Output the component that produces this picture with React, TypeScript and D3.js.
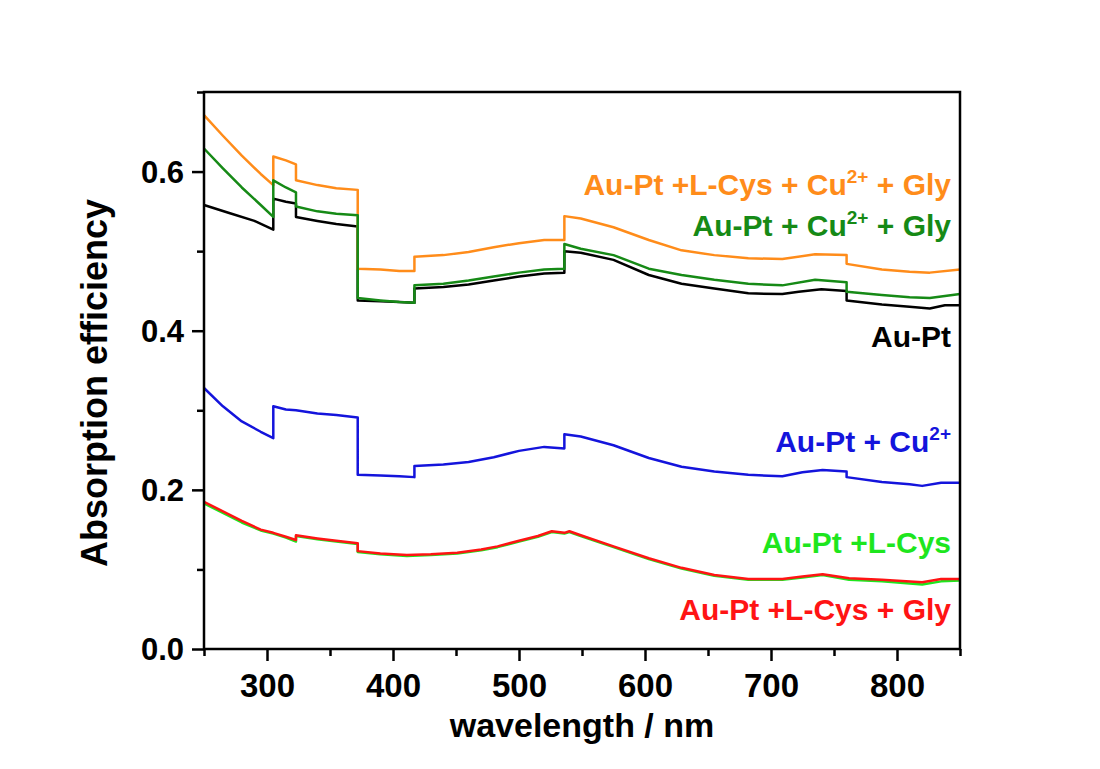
import { useRef, useEffect } from 'react';
import * as d3 from 'd3';

type Pt = [number, number];

// wavelength (nm), absorption efficiency
const auPt: Pt[] = [
    [250, 0.558], [270, 0.548], [290, 0.538], [305, 0.527], [305, 0.566], [315, 0.562], [323, 0.560],
    [323, 0.543], [340, 0.538], [355, 0.534], [372, 0.531], [372, 0.438], [390, 0.437], [405, 0.436],
    [417, 0.435], [417, 0.453], [440, 0.455], [460, 0.458], [480, 0.463], [500, 0.468], [520, 0.472],
    [536, 0.473], [536, 0.500], [549, 0.498], [575, 0.489], [603, 0.470], [629, 0.459], [655, 0.453],
    [682, 0.447], [709, 0.446], [722, 0.449], [740, 0.452], [760, 0.450], [760, 0.438], [788, 0.433],
    [810, 0.430], [826, 0.428], [838, 0.432], [850, 0.432]
];

const auPtCu: Pt[] = [
    [250, 0.328], [265, 0.305], [280, 0.286], [295, 0.273], [305, 0.265], [305, 0.305], [315, 0.301],
    [323, 0.300], [340, 0.296], [355, 0.294], [372, 0.291], [372, 0.219], [390, 0.218], [405, 0.217],
    [417, 0.216], [417, 0.230], [440, 0.232], [460, 0.235], [480, 0.241], [500, 0.249], [520, 0.254],
    [536, 0.252], [536, 0.270], [549, 0.267], [575, 0.256], [603, 0.240], [629, 0.229], [655, 0.223],
    [682, 0.219], [709, 0.217], [725, 0.222], [741, 0.225], [760, 0.223], [760, 0.216], [788, 0.210],
    [810, 0.207], [820, 0.205], [835, 0.209], [850, 0.209]
];

const auPtCysCuGly: Pt[] = [
    [250, 0.671], [265, 0.645], [280, 0.620], [295, 0.597], [305, 0.583], [305, 0.619], [315, 0.614],
    [323, 0.609], [323, 0.589], [340, 0.583], [355, 0.579], [372, 0.577], [372, 0.478], [390, 0.477],
    [405, 0.475], [417, 0.475], [417, 0.493], [440, 0.495], [460, 0.499], [480, 0.505], [500, 0.510],
    [520, 0.514], [536, 0.514], [536, 0.544], [549, 0.541], [575, 0.530], [603, 0.514], [629, 0.501],
    [655, 0.495], [682, 0.491], [709, 0.490], [735, 0.496], [760, 0.495], [760, 0.484], [788, 0.477],
    [810, 0.474], [826, 0.473], [850, 0.477]
];

const auPtCuGly: Pt[] = [
    [250, 0.629], [265, 0.604], [280, 0.580], [295, 0.558], [305, 0.543], [305, 0.589], [315, 0.580],
    [323, 0.574], [323, 0.556], [340, 0.550], [355, 0.547], [372, 0.545], [372, 0.441], [390, 0.438],
    [405, 0.436], [417, 0.435], [417, 0.457], [440, 0.459], [460, 0.463], [480, 0.468], [500, 0.473],
    [520, 0.477], [536, 0.478], [536, 0.509], [549, 0.503], [575, 0.495], [603, 0.478], [629, 0.470],
    [655, 0.464], [682, 0.459], [709, 0.457], [735, 0.464], [760, 0.461], [760, 0.449], [788, 0.445],
    [810, 0.442], [826, 0.441], [850, 0.446]
];

const auPtCys: Pt[] = [
    [250, 0.183], [265, 0.171], [280, 0.159], [295, 0.149], [305, 0.145], [315, 0.140], [323, 0.135],
    [323, 0.142], [340, 0.138], [355, 0.135], [372, 0.132], [372, 0.122], [390, 0.119], [411, 0.117],
    [430, 0.118], [451, 0.120], [470, 0.124], [483, 0.128], [500, 0.135], [515, 0.141], [526, 0.147],
    [536, 0.145], [540, 0.147], [549, 0.142], [575, 0.128], [603, 0.113], [629, 0.101], [655, 0.092],
    [682, 0.087], [709, 0.087], [725, 0.090], [741, 0.093], [762, 0.087], [788, 0.085], [820, 0.081],
    [835, 0.085], [850, 0.086]
];

const auPtCysGly: Pt[] = [
    [250, 0.185], [265, 0.173], [280, 0.161], [295, 0.150], [305, 0.146], [315, 0.141], [323, 0.137],
    [323, 0.143], [340, 0.139], [355, 0.136], [372, 0.133], [372, 0.123], [390, 0.120], [411, 0.118],
    [430, 0.119], [451, 0.121], [470, 0.125], [483, 0.129], [500, 0.136], [515, 0.142], [526, 0.148],
    [536, 0.146], [540, 0.148], [549, 0.143], [575, 0.129], [603, 0.114], [629, 0.102], [655, 0.093],
    [682, 0.088], [709, 0.088], [725, 0.091], [741, 0.094], [762, 0.089], [788, 0.087], [820, 0.084],
    [835, 0.088], [850, 0.088]
];

const series = [
    { data: auPt, color: '#000000' },
    { data: auPtCu, color: '#1414dc' },
    { data: auPtCysCuGly, color: '#ff8c1a' },
    { data: auPtCuGly, color: '#168a16' },
    { data: auPtCys, color: '#1ee61e' },
    { data: auPtCysGly, color: '#ff1414' },
];

// label parts: [text, isSuperscript]; y = baseline value
const labels: { parts: [string, boolean][], color: string, y: number }[] = [
    { parts: [['Au-Pt +L-Cys + Cu', false], ['2+', true], [' + Gly', false]], color: '#ff8c1a', y: 0.570 },
    { parts: [['Au-Pt + Cu', false], ['2+', true], [' + Gly', false]], color: '#168a16', y: 0.519 },
    { parts: [['Au-Pt', false]], color: '#000000', y: 0.379 },
    { parts: [['Au-Pt + Cu', false], ['2+', true]], color: '#1414dc', y: 0.248 },
    { parts: [['Au-Pt +L-Cys', false]], color: '#1ee61e', y: 0.121 },
    { parts: [['Au-Pt +L-Cys + Gly', false]], color: '#ff1414', y: 0.037 },
];

const xMajor = [300, 400, 500, 600, 700, 800];
const xMinor = [250, 350, 450, 550, 650, 750, 850];
const yMajor = [0.0, 0.2, 0.4, 0.6];
const yMinor = [0.1, 0.3, 0.5, 0.7];

export default function App() {
    const ref = useRef<SVGSVGElement>(null);

    useEffect(() => {
        if (!ref.current) return;
        const svg = d3.select(ref.current);
        svg.selectAll('*').remove();

        const left = 204, right = 960, top = 92, bottom = 649;
        const x = d3.scaleLinear().domain([250, 850]).range([left, right]);
        const y = d3.scaleLinear().domain([0, 0.7]).range([bottom, top]);
        const font = '"Liberation Sans", Arial, sans-serif';

        const line = d3.line<Pt>().x(d => x(d[0])).y(d => y(d[1]));

        series.forEach(s => {
            svg.append('path')
                .attr('d', line(s.data))
                .attr('fill', 'none')
                .attr('stroke', s.color)
                .attr('stroke-width', 2.5)
                .attr('stroke-linejoin', 'round');
        });

        // frame
        svg.append('rect')
            .attr('x', left).attr('y', top)
            .attr('width', right - left).attr('height', bottom - top)
            .attr('fill', 'none').attr('stroke', '#000').attr('stroke-width', 2.5);

        // x axis
        const gx = svg.append('g').attr('transform', `translate(0,${bottom})`);
        gx.call(d3.axisBottom(x).tickValues(xMajor).tickSize(12).tickFormat(d => `${d}`));
        const gxm = svg.append('g').attr('transform', `translate(0,${bottom})`);
        gxm.call(d3.axisBottom(x).tickValues(xMinor).tickSize(7).tickFormat(() => ''));

        // y axis
        const gy = svg.append('g').attr('transform', `translate(${left},0)`);
        gy.call(d3.axisLeft(y).tickValues(yMajor).tickSize(12).tickFormat(d3.format('.1f')));
        const gym = svg.append('g').attr('transform', `translate(${left},0)`);
        gym.call(d3.axisLeft(y).tickValues(yMinor).tickSize(7).tickFormat(() => ''));

        [gx, gxm, gy, gym].forEach(g => {
            g.select('.domain').remove();
            g.selectAll('.tick line').attr('stroke', '#000').attr('stroke-width', 2.5);
        });
        gx.selectAll('.tick text')
            .attr('font-family', font).attr('font-weight', 'bold').attr('font-size', 33)
            .attr('fill', '#000').attr('y', 48).attr('dy', 0);
        gy.selectAll('.tick text')
            .attr('font-family', font).attr('font-weight', 'bold').attr('font-size', 31)
            .attr('fill', '#000').attr('x', -20).attr('dy', '0.35em');

        // axis titles
        svg.append('text')
            .attr('x', (left + right) / 2).attr('y', 737)
            .attr('text-anchor', 'middle')
            .attr('font-family', font).attr('font-weight', 'bold').attr('font-size', 34)
            .text('wavelength / nm');

        svg.append('text')
            .attr('transform', `translate(107,383) rotate(-90)`)
            .attr('text-anchor', 'middle')
            .attr('font-family', font).attr('font-weight', 'bold').attr('font-size', 36)
            .text('Absorption efficiency');

        // curve labels
        labels.forEach(l => {
            const t = svg.append('text')
                .attr('x', 951).attr('y', y(l.y))
                .attr('text-anchor', 'end')
                .attr('font-family', font).attr('font-weight', 'bold').attr('font-size', 30)
                .attr('fill', l.color);
            let raised = false;
            l.parts.forEach(([txt, sup]) => {
                const sp = t.append('tspan').text(txt);
                if (sup && !raised) { sp.attr('dy', -12).attr('font-size', 19); raised = true; }
                else if (!sup && raised) { sp.attr('dy', 12); raised = false; }
            });
        });
    }, []);

    return (
        <svg ref={ref} width={1100} height={769}
            style={{ position: 'absolute', left: 0, top: 0, background: '#fff' }} />
    );
}
